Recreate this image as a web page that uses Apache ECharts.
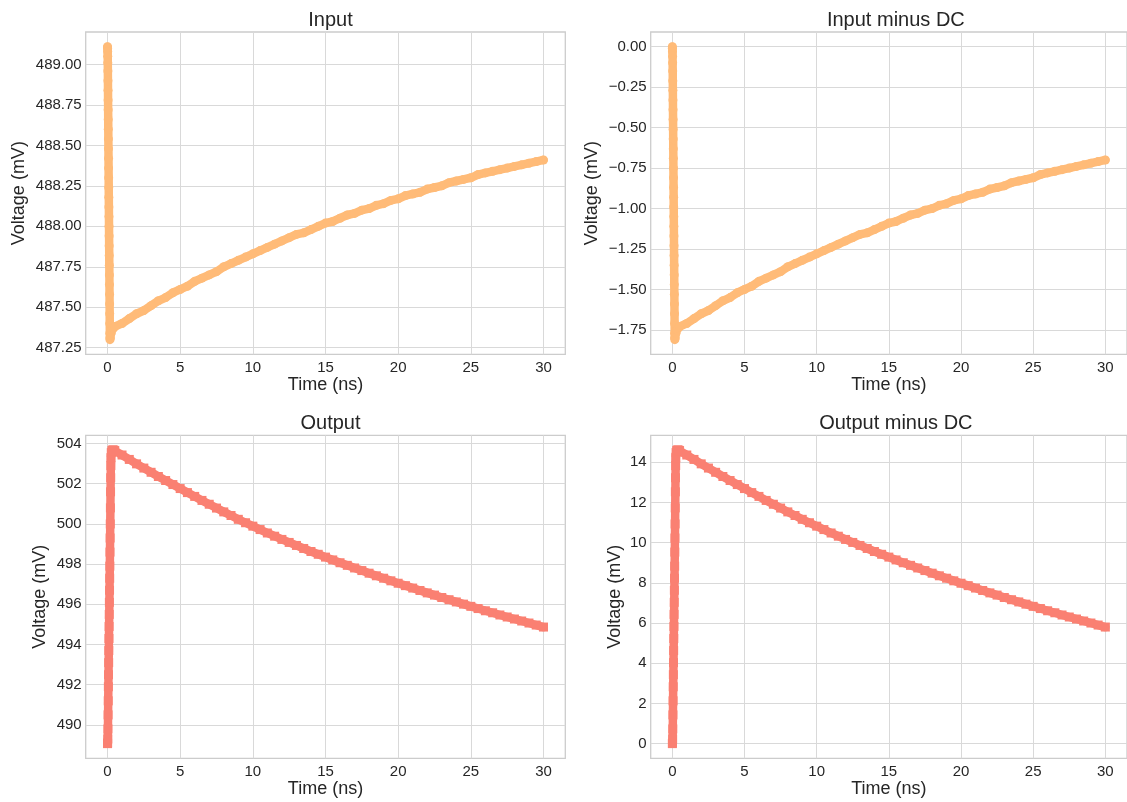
<!DOCTYPE html>
<html>
<head>
<meta charset="utf-8">
<title>Input / Output voltage</title>
<script src="https://cdn.jsdelivr.net/npm/echarts@6/dist/echarts.min.js"></script>
<style>
  html, body { margin: 0; padding: 0; background: #ffffff; }
  #chart { width: 1127px; height: 802px; }
</style>
</head>
<body>
<div id="chart"></div>
<script>
// ---- Measured waveforms (time in ns, voltage in mV) ----
const inputTime = [
  0, 0.005, 0.01, 0.015, 0.02, 0.025, 0.03, 0.035, 0.04, 0.045,
  0.05, 0.055, 0.06, 0.065, 0.07, 0.075, 0.08, 0.085, 0.09, 0.095,
  0.1, 0.105, 0.11, 0.115, 0.12, 0.125, 0.13, 0.135, 0.14, 0.145,
  0.15, 0.155, 0.16, 0.165, 0.17, 0.2, 0.25, 0.3, 0.4,
  0.5, 1, 1.5, 2, 2.5, 3, 3.5, 4, 4.5, 5,
  5.5, 6, 6.5, 7, 7.5, 8, 8.5, 9, 9.5, 10,
  10.5, 11, 11.5, 12, 12.5, 13, 13.5, 14, 14.5, 15,
  15.5, 16, 16.5, 17, 17.5, 18, 18.5, 19, 19.5, 20,
  20.5, 21, 21.5, 22, 22.5, 23, 23.5, 24, 24.5, 25,
  25.5, 26, 26.5, 27, 27.5, 28, 28.5, 29, 29.5, 30
];
const inputVoltage = [
  489.11, 489.10, 489.08, 489.05, 489.01, 488.96, 488.90, 488.84, 488.78, 488.72,
  488.66, 488.60, 488.54, 488.48, 488.42, 488.36, 488.30, 488.24, 488.18, 488.12,
  488.06, 488.00, 487.94, 487.88, 487.82, 487.76, 487.70, 487.64, 487.58, 487.52,
  487.46, 487.40, 487.34, 487.31, 487.30, 487.31, 487.34, 487.36, 487.37,
  487.38, 487.40, 487.43, 487.46, 487.48, 487.51, 487.54, 487.56, 487.59, 487.61,
  487.63, 487.66, 487.68, 487.70, 487.72, 487.75, 487.77, 487.79, 487.81, 487.83,
  487.85, 487.87, 487.89, 487.91, 487.93, 487.95, 487.96, 487.98, 488.00, 488.02,
  488.03, 488.05, 488.07, 488.08, 488.10, 488.11, 488.13, 488.14, 488.16, 488.17,
  488.19, 488.20, 488.21, 488.23, 488.24, 488.25, 488.27, 488.28, 488.29, 488.30,
  488.32, 488.33, 488.34, 488.35, 488.36, 488.37, 488.38, 488.39, 488.40, 488.41
];

const outputTime = [
  0, 0.01, 0.02, 0.03, 0.04, 0.05, 0.06, 0.07, 0.08, 0.09,
  0.1, 0.11, 0.12, 0.13, 0.14, 0.15, 0.16, 0.17, 0.18, 0.19,
  0.2, 0.21, 0.22, 0.23, 0.24, 0.26, 0.3, 0.35, 0.4, 0.45,
  0.5, 1, 1.5, 2, 2.5, 3, 3.5, 4, 4.5, 5,
  5.5, 6, 6.5, 7, 7.5, 8, 8.5, 9, 9.5, 10,
  10.5, 11, 11.5, 12, 12.5, 13, 13.5, 14, 14.5, 15,
  15.5, 16, 16.5, 17, 17.5, 18, 18.5, 19, 19.5, 20,
  20.5, 21, 21.5, 22, 22.5, 23, 23.5, 24, 24.5, 25,
  25.5, 26, 26.5, 27, 27.5, 28, 28.5, 29, 29.5, 30
];
const outputVoltage = [
  489.07, 489.10, 489.30, 489.80, 490.50, 491.20, 491.90, 492.50, 493.10, 493.70,
  494.30, 494.90, 495.50, 496.10, 496.70, 497.30, 497.90, 498.60, 499.30, 500.00,
  500.80, 501.60, 502.30, 502.90, 503.30, 503.55, 503.65, 503.68, 503.68, 503.66,
  503.65, 503.43, 503.21, 502.99, 502.78, 502.57, 502.36, 502.16, 501.96, 501.76,
  501.56, 501.37, 501.17, 500.98, 500.79, 500.60, 500.42, 500.23, 500.06, 499.89,
  499.72, 499.55, 499.39, 499.23, 499.08, 498.93, 498.78, 498.63, 498.49, 498.35,
  498.21, 498.07, 497.94, 497.81, 497.68, 497.55, 497.42, 497.30, 497.17, 497.05,
  496.93, 496.81, 496.69, 496.57, 496.46, 496.34, 496.23, 496.12, 496.01, 495.90,
  495.79, 495.68, 495.58, 495.47, 495.37, 495.27, 495.17, 495.07, 494.97, 494.87
];

// ---- Tick values ----
const timeTicks = [0, 5, 10, 15, 20, 25, 30];
const inputTicks = [487.25, 487.5, 487.75, 488.0, 488.25, 488.5, 488.75, 489.0];
const inputAcTicks = [-1.75, -1.5, -1.25, -1.0, -0.75, -0.5, -0.25, 0];
const outputTicks = [490, 492, 494, 496, 498, 500, 502, 504];
const outputAcTicks = [0, 2, 4, 6, 8, 10, 12, 14];

// DC level is the first sample of each trace
const inputDc = inputVoltage[0];
const outputDc = outputVoltage[0];
const inputMinusDc = inputVoltage.map(v => +(v - inputDc).toFixed(4));
const outputMinusDc = outputVoltage.map(v => +(v - outputDc).toFixed(4));

const pairs = (xs, ys) => xs.map((x, i) => [x, ys[i]]);

// Autoscale with 5% margins on each side
function padded(values) {
  const lo = Math.min.apply(null, values);
  const hi = Math.max.apply(null, values);
  const m = (hi - lo) * 0.05;
  return [lo - m, hi + m];
}

const FONT = '"Liberation Sans", Arial, Helvetica, sans-serif';
const TEXT = '#262626';
const GRID_LINE = '#d9d9d9';
const ORANGE = '#ffbb78';
const SALMON = '#fa8072';

const minusSign = s => s.replace('-', '\u2212');
const fmt2 = v => minusSign((Math.abs(v) < 1e-9 ? 0 : v).toFixed(2));
const fmt0 = v => minusSign(String(Math.round(v)));

const panels = [
  { title: 'Input', left: 85.7, top: 32, width: 479.6, height: 322.3,
    time: inputTime, values: inputVoltage, ticks: inputTicks, fmt: fmt2,
    color: ORANGE, symbol: 'circle', nameGap: 58 },
  { title: 'Input minus DC', left: 650.7, top: 32, width: 480.3, height: 322.3,
    time: inputTime, values: inputMinusDc, ticks: inputAcTicks, fmt: fmt2,
    color: ORANGE, symbol: 'circle', nameGap: 50 },
  { title: 'Output', left: 85.7, top: 435.3, width: 479.6, height: 323,
    time: outputTime, values: outputVoltage, ticks: outputTicks, fmt: fmt0,
    color: SALMON, symbol: 'rect', nameGap: 37 },
  { title: 'Output minus DC', left: 650.7, top: 435.3, width: 480.3, height: 323,
    time: outputTime, values: outputMinusDc, ticks: outputAcTicks, fmt: fmt0,
    color: SALMON, symbol: 'rect', nameGap: 27 }
];

const xRange = padded(inputTime.concat(outputTime));

const option = {
  animation: false,
  backgroundColor: '#ffffff',
  textStyle: { fontFamily: FONT, color: TEXT },
  title: panels.map(p => ({
    text: p.title,
    left: p.left + p.width / 2,
    top: p.top - 27,
    textAlign: 'center',
    textStyle: { fontFamily: FONT, fontSize: 20, fontWeight: 'normal', color: TEXT }
  })),
  grid: panels.map(p => ({
    left: p.left, top: p.top, width: p.width, height: p.height,
    show: true, borderColor: '#cccccc', borderWidth: 1.3, backgroundColor: 'transparent',
    containLabel: false
  })),
  xAxis: panels.map((p, i) => ({
    type: 'value',
    gridIndex: i,
    min: xRange[0], max: xRange[1],
    name: 'Time (ns)',
    nameLocation: 'middle',
    nameGap: 22,
    nameTextStyle: { fontFamily: FONT, fontSize: 18, color: TEXT },
    axisLine: { show: false },
    axisTick: { show: false, customValues: timeTicks },
    axisLabel: { customValues: timeTicks, fontFamily: FONT, fontSize: 15, color: TEXT, margin: 6,
                 formatter: v => fmt0(v) },
    splitLine: { show: true, lineStyle: { color: GRID_LINE, width: 1 } }
  })),
  yAxis: panels.map((p, i) => {
    const r = padded(p.values);
    return {
      type: 'value',
      gridIndex: i,
      min: r[0], max: r[1],
      name: 'Voltage (mV)',
      nameLocation: 'middle',
      nameGap: p.nameGap,
      nameRotate: 90,
      nameTextStyle: { fontFamily: FONT, fontSize: 18, color: TEXT },
      axisLine: { show: false },
      axisTick: { show: false, customValues: p.ticks },
      axisLabel: { customValues: p.ticks, fontFamily: FONT, fontSize: 15, color: TEXT, margin: 4,
                   formatter: v => p.fmt(v) },
      splitLine: { show: true, lineStyle: { color: GRID_LINE, width: 1 } }
    };
  }),
  series: panels.map((p, i) => ({
    type: 'line',
    xAxisIndex: i,
    yAxisIndex: i,
    data: pairs(p.time, p.values),
    symbol: p.symbol,
    symbolSize: 9,
    showSymbol: true,
    showAllSymbol: true,
    silent: true,
    itemStyle: { color: p.color, opacity: 1 },
    lineStyle: { color: p.color, width: 8.5, cap: 'round', join: 'round' },
    emphasis: { disabled: true }
  }))
};

const chart = echarts.init(document.getElementById('chart'), null, { renderer: 'canvas' });
chart.setOption(option);
</script>
</body>
</html>
